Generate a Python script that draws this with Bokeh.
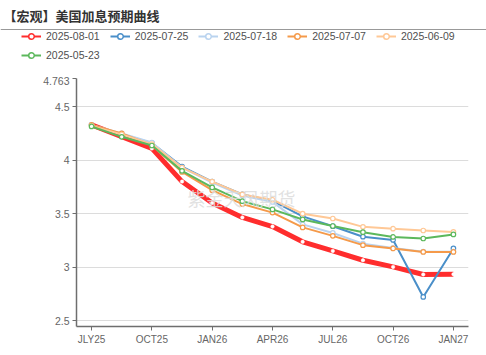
from bokeh.plotting import figure
from bokeh.models import (ColumnDataSource, FixedTicker, Legend, LegendItem, Label,
                          Span, Range1d)
from bokeh.layouts import column, row
from bokeh.embed import file_html
from bokeh.resources import INLINE

# ---- data ----
categories = ["JLY25", "SEP25", "OCT25", "DEC25", "JAN26", "MAR26", "APR26",
              "JUN26", "JUL26", "SEP26", "OCT26", "DEC26", "JAN27"]
shown_labels = ["JLY25", "OCT25", "JAN26", "APR26", "JUL26", "OCT26", "JAN27"]
series_names = ["2025-08-01", "2025-07-25", "2025-07-18", "2025-07-07", "2025-06-09", "2025-05-23"]

s_20250801 = [4.33, 4.22, 4.11, 3.80, 3.60, 3.465, 3.38, 3.237, 3.152, 3.065, 3.003, 2.932, 2.934]
s_20250725 = [4.33, 4.24, 4.16, 3.94, 3.80, 3.68, 3.62, 3.475, 3.383, 3.285, 3.255, 2.722, 3.175]
s_20250718 = [4.33, 4.25, 4.165, 3.93, 3.79, 3.67, 3.61, 3.40, 3.32, 3.22, 3.18, 3.145, 3.145]
s_20250707 = [4.33, 4.25, 4.14, 3.89, 3.72, 3.59, 3.51, 3.372, 3.293, 3.206, 3.175, 3.143, 3.143]
s_20250609 = [4.32, 4.24, 4.15, 3.93, 3.80, 3.68, 3.63, 3.50, 3.455, 3.377, 3.36, 3.343, 3.33]
s_20250523 = [4.315, 4.218, 4.137, 3.90, 3.745, 3.617, 3.54, 3.446, 3.385, 3.327, 3.283, 3.268, 3.306]

y_ticks = [2.5, 3, 3.5, 4, 4.5, 4.763]

series_values = [s_20250801, s_20250725, s_20250718, s_20250707, s_20250609, s_20250523]
colors = ["#ff2d2d", "#4a8fc9", "#b9d3ef", "#f59a4a", "#ffc896", "#5cb85c"]
widths = [5, 2, 2, 2, 2, 2]

TITLE = "【宏观】美国加息预期曲线"
WATERMARK = "紫金天风期货"

W = 486
TOP_H = 76
MAIN_H = 355 - TOP_H
xs = list(range(len(categories)))

# ---- header figure: title, rule, legend ----
top = figure(width=W, height=TOP_H, output_backend="svg", toolbar_location=None,
             x_range=Range1d(0, W), y_range=Range1d(0, TOP_H),
             x_axis_type=None, y_axis_type=None,
             min_border_left=0, min_border_right=0, min_border_top=0, min_border_bottom=0)
top.outline_line_color = None
top.xgrid.grid_line_color = None
top.ygrid.grid_line_color = None
top.border_fill_color = "white"
top.background_fill_color = "white"

top.add_layout(Label(x=3, y=TOP_H - 15, text=TITLE,
                     text_font="Noto Sans CJK SC", text_font_size="13px",
                     text_font_style="bold", text_color="#333333",
                     text_baseline="middle"))
top.add_layout(Span(location=TOP_H - 29, dimension="width", line_color="#999999",
                    line_width=1.2))

items = []
for name, vals, c in zip(series_names, series_values, colors):
    src = ColumnDataSource(dict(x=xs, y=vals))
    r1 = top.line("x", "y", source=src, line_color=c, line_width=2, visible=False)
    r2 = top.scatter("x", "y", source=src, marker="circle", size=9, fill_color="white",
                     line_color=c, line_width=1.5, visible=False)
    items.append(LegendItem(label=name, renderers=[r1, r2]))


def make_legend(its, y):
    return Legend(items=its, location=(21, y), orientation="horizontal",
                  padding=0, margin=0, spacing=10, glyph_width=20, glyph_height=14,
                  label_height=14, label_standoff=5, border_line_color=None,
                  background_fill_alpha=0, label_text_font="Liberation Sans",
                  label_text_font_size="10.5px", label_text_color="#505050")


top.add_layout(make_legend(items[:5], TOP_H - 43), "center")
top.add_layout(make_legend(items[5:], TOP_H - 62), "center")

# ---- main chart ----
p = figure(width=W, height=MAIN_H, output_backend="svg", toolbar_location=None,
           x_range=Range1d(-0.5, len(categories) - 0.5),
           y_range=Range1d(2.446, 4.763),
           min_border_left=76, min_border_right=18, min_border_top=2, min_border_bottom=29)
p.outline_line_color = None
p.background_fill_color = "white"
p.border_fill_color = "white"

p.xaxis.ticker = FixedTicker(ticks=[categories.index(c) for c in shown_labels])
p.xaxis.major_label_overrides = {categories.index(c): c for c in shown_labels}
p.yaxis.ticker = FixedTicker(ticks=y_ticks)
p.yaxis.major_label_overrides = {t: ("%g" % t) for t in y_ticks}
for ax in (p.xaxis[0], p.yaxis[0]):
    ax.axis_line_color = "#6e6e6e"
    ax.axis_line_width = 1.5
    ax.major_tick_line_color = "#6e6e6e"
    ax.major_tick_in = 0
    ax.major_tick_out = 4
    ax.minor_tick_line_color = None
    ax.major_label_text_color = "#666666"
    ax.major_label_text_font = "Liberation Sans"
    ax.major_label_standoff = 3
p.xaxis.major_label_text_font_size = "10px"
p.yaxis.major_label_text_font_size = "10.5px"
p.xgrid.grid_line_color = None
p.ygrid.grid_line_color = "#dcdcdc"
p.ygrid.grid_line_width = 1.2

p.add_layout(Label(x=165, y=129, x_units="screen", y_units="screen", text=WATERMARK,
                   text_font="Noto Sans CJK SC", text_font_size="18px",
                   text_color="#dcdcdc", text_alpha=0.85,
                   text_align="center", text_baseline="middle"))

for name, vals, c, w in zip(series_names, series_values, colors, widths):
    src = ColumnDataSource(dict(x=xs, y=vals))
    p.line("x", "y", source=src, line_color=c, line_width=w, line_join="round")
    if w > 3:
        p.scatter("x", "y", source=src, marker="circle", size=3.5, fill_color="white",
                  line_color="white", line_width=0.5)
    else:
        p.scatter("x", "y", source=src, marker="circle", size=4.5, fill_color="white",
                  line_color=c, line_width=1.2)

layout = column(row(top), p, spacing=0)
open("out.html", "w").write(file_html(layout, INLINE))
